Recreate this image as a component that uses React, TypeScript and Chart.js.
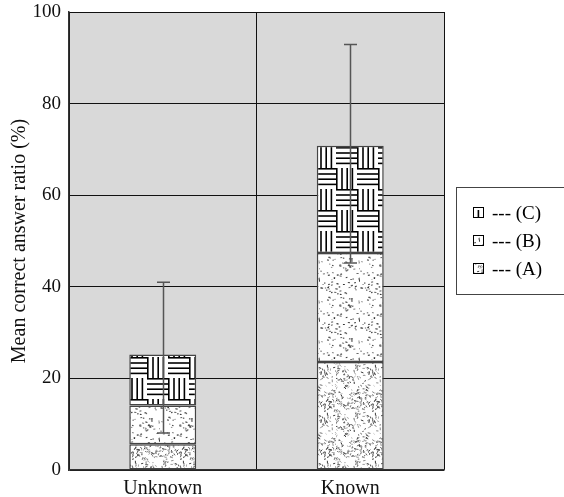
import React, { useEffect, useRef } from "react";
import { Chart, registerables } from "chart.js";

Chart.register(...registerables);

const categories = ["Unknown", "Known"];
const seriesA = [5.6, 23.6];
const seriesB = [8.5, 23.8];
const seriesC = [11.1, 23.4];
const errLow = [8.1, 45.2];
const errHigh = [41.0, 92.9];
const yTicks = [0, 20, 40, 60, 80, 100];
const seriesLabels = ["(A)", "(B)", "(C)"];

function rng(seed: number) {
  let s = seed >>> 0;
  return () => {
    s = (s * 1664525 + 1013904223) >>> 0;
    return s / 4294967296;
  };
}

function makeSpeckle(ctx: CanvasRenderingContext2D, size: number, count: number, seed: number, dense: boolean) {
  const c = document.createElement("canvas");
  c.width = size;
  c.height = size;
  const g = c.getContext("2d")!;
  g.fillStyle = "#ffffff";
  g.fillRect(0, 0, size, size);
  const r = rng(seed);
  for (let i = 0; i < count; i++) {
    const x = r() * size;
    const y = r() * size;
    const gray = dense ? 20 + Math.floor(r() * 150) : 40 + Math.floor(r() * 110);
    g.strokeStyle = `rgb(${gray},${gray},${gray})`;
    g.lineWidth = dense ? 0.9 : 1.1;
    const ang = dense ? r() * Math.PI : (r() - 0.5) * 0.6;
    const len = dense ? 1 + r() * 2 : 1.2 + r() * 1;
    g.beginPath();
    g.moveTo(x, y);
    g.lineTo(x + Math.cos(ang) * len, y + Math.sin(ang) * len);
    g.stroke();
  }
  return ctx.createPattern(c, "repeat")!;
}

function makeWeave(ctx: CanvasRenderingContext2D) {
  const cell = 21;
  const size = cell * 2;
  const c = document.createElement("canvas");
  c.width = size;
  c.height = size;
  const g = c.getContext("2d")!;
  g.fillStyle = "#ffffff";
  g.fillRect(0, 0, size, size);
  g.strokeStyle = "#000000";
  g.lineWidth = 1.6;
  const offs = [0.8, 6, 11.2, 16.4];
  for (let cx = 0; cx < 2; cx++) {
    for (let cy = 0; cy < 2; cy++) {
      const vertical = (cx + cy) % 2 === 0;
      const x0 = cx * cell;
      const y0 = cy * cell;
      for (const o of offs) {
        g.beginPath();
        if (vertical) {
          g.moveTo(x0 + o, y0);
          g.lineTo(x0 + o, y0 + cell);
        } else {
          g.moveTo(x0, y0 + o);
          g.lineTo(x0 + cell, y0 + o);
        }
        g.stroke();
      }
    }
  }
  return ctx.createPattern(c, "repeat")!;
}

export default function App() {
  const ref = useRef<HTMLCanvasElement>(null);

  useEffect(() => {
    const canvas = ref.current!;
    const ctx = canvas.getContext("2d")!;
    const patA = makeSpeckle(ctx, 48, 260, 7, true);
    const patB = makeSpeckle(ctx, 40, 90, 13, false);
    const patC = makeWeave(ctx);
    const fills = [patA, patB, patC];

    const bgPlugin = {
      id: "bg",
      beforeDraw(chart: any) {
        const { ctx, chartArea } = chart;
        ctx.save();
        ctx.fillStyle = "#d9d9d9";
        ctx.fillRect(chartArea.left, chartArea.top, chartArea.right - chartArea.left, chartArea.bottom - chartArea.top);
        ctx.restore();
      },
    };

    const errPlugin = {
      id: "err",
      afterDatasetsDraw(chart: any) {
        const { ctx } = chart;
        const xs = chart.scales.x;
        const ys = chart.scales.y;
        ctx.save();
        ctx.strokeStyle = "#555555";
        ctx.lineWidth = 1.5;
        categories.forEach((_, i) => {
          const x = Math.round(xs.getPixelForValue(i)) + 0.5;
          const yl = ys.getPixelForValue(errLow[i]);
          const yh = ys.getPixelForValue(errHigh[i]);
          ctx.beginPath();
          ctx.moveTo(x, yl);
          ctx.lineTo(x, yh);
          ctx.moveTo(x - 6.5, yh);
          ctx.lineTo(x + 6.5, yh);
          ctx.moveTo(x - 6.5, yl);
          ctx.lineTo(x + 6.5, yl);
          ctx.stroke();
        });
        ctx.restore();
      },
    };

    const legendPlugin = {
      id: "customLegend",
      afterDraw(chart: any) {
        const { ctx } = chart;
        const left = 456.5;
        const top = 187.5;
        const w = 110;
        const h = 107;
        ctx.save();
        ctx.strokeStyle = "#444444";
        ctx.lineWidth = 1;
        ctx.strokeRect(left, top, w, h);
        const rows = [2, 1, 0];
        rows.forEach((di, r) => {
          const cy = 213 + r * 28;
          ctx.fillStyle = fills[di];
          ctx.fillRect(473, cy - 6, 11, 11);
          ctx.strokeStyle = "#000000";
          ctx.lineWidth = 1;
          ctx.strokeRect(473.5, cy - 5.5, 10, 10);
          ctx.fillStyle = "#000000";
          ctx.font = "19px 'Liberation Serif'";
          ctx.textBaseline = "middle";
          ctx.textAlign = "left";
          ctx.fillText("--- " + seriesLabels[di], 492, cy + 1);
        });
        ctx.restore();
      },
    };

    const datasets = [seriesA, seriesB, seriesC].map((d, i) => ({
      label: seriesLabels[i],
      data: d,
      backgroundColor: fills[i],
      borderColor: "#444444",
      borderWidth: 1.5,
      borderSkipped: false as any,
      categoryPercentage: 1,
      barPercentage: 0.357,
    }));

    const chart = new Chart(canvas, {
      type: "bar",
      data: { labels: categories, datasets },
      options: {
        animation: false,
        responsive: false,
        layout: { padding: { top: 12, right: 120, left: 0, bottom: 0 } },
        plugins: { legend: { display: false }, tooltip: { enabled: false } },
        scales: {
          x: {
            stacked: true,
            offset: true,
            grid: { offset: true, color: "#111111", lineWidth: 1, drawTicks: false },
            border: { display: true, color: "#333333", width: 1.5 },
            ticks: { color: "#111111", font: { family: "'Liberation Serif'", size: 20 }, padding: 7 },
            afterFit: (s: any) => {
              s.height = 27;
              s.paddingLeft = 0;
              s.paddingRight = 0;
            },
          },
          y: {
            stacked: true,
            min: 0,
            max: 100,
            afterBuildTicks: (s: any) => {
              s.ticks = yTicks.map((v) => ({ value: v }));
            },
            grid: { color: "#111111", lineWidth: 1, drawTicks: false },
            border: { display: true, color: "#333333", width: 1.5 },
            ticks: { color: "#111111", font: { family: "'Liberation Serif'", size: 19 }, padding: 8 },
            title: {
              display: true,
              text: "Mean correct answer ratio (%)",
              color: "#111111",
              font: { family: "'Liberation Serif'", size: 20 },
              padding: { top: 8, bottom: 0 },
            },
            afterFit: (s: any) => {
              s.width = 69;
              s.paddingTop = 0;
              s.paddingBottom = 0;
            },
          },
        },
      },
      plugins: [bgPlugin, errPlugin, legendPlugin],
    });
    return () => chart.destroy();
  }, []);

  return (
    <canvas
      ref={ref}
      width={564}
      height={497}
      style={{ position: "absolute", left: 0, top: 0, width: 564, height: 497 }}
    />
  );
}
